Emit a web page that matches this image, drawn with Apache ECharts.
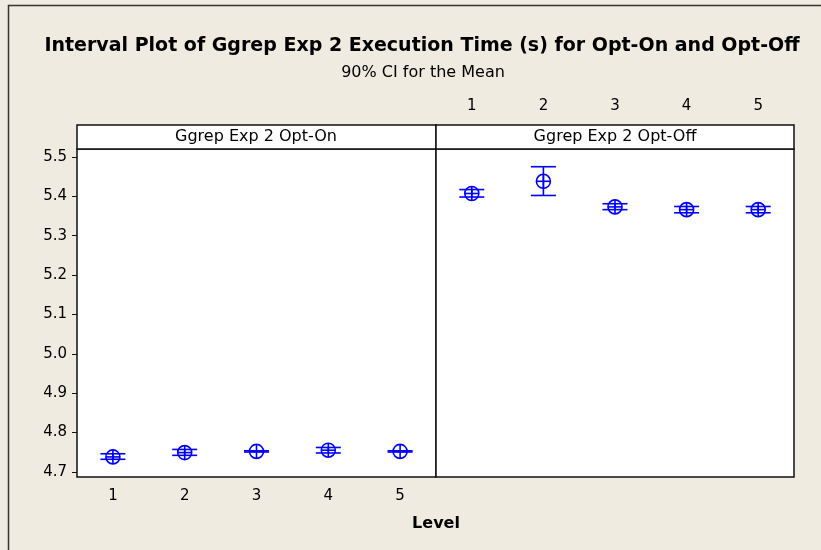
<!DOCTYPE html>
<html>
<head>
<meta charset="utf-8">
<script src="https://cdn.jsdelivr.net/npm/echarts@6/dist/echarts.min.js"></script>
<style>
  html, body { margin: 0; padding: 0; }
  #chart { width: 821px; height: 550px; }
</style>
</head>
<body>
<div id="chart"></div>
<script>
// levels on the x axis (same for both panels)
const levels = ['1', '2', '3', '4', '5']
// y axis ticks and range
const yTicks = [4.7, 4.8, 4.9, 5.0, 5.1, 5.2, 5.3, 5.4, 5.5]
const yMin = 4.687
const yMax = 5.52

// Opt-On: mean and 90% CI
const onMean = [4.738, 4.749, 4.752, 4.755, 4.752]
const onLower = [4.732, 4.742, 4.7505, 4.748, 4.7505]
const onUpper = [4.746, 4.757, 4.7535, 4.762, 4.7535]

// Opt-Off: mean and 90% CI
const offMean = [5.407, 5.438, 5.373, 5.366, 5.366]
const offLower = [5.398, 5.402, 5.366, 5.358, 5.358]
const offUpper = [5.417, 5.475, 5.381, 5.374, 5.374]

const blue = '#0000ff'
const font = 'DejaVu Sans'

function rows(mean, lower, upper) {
  return levels.map((l, i) => [i, lower[i], upper[i], mean[i]])
}

function renderInterval(params, api) {
  const x = api.value(0)
  const lo = api.coord([x, api.value(1)])
  const hi = api.coord([x, api.value(2)])
  const m = api.coord([x, api.value(3)])
  const half = 12.5
  const r = 7
  const style = { stroke: blue, lineWidth: 1.6, fill: null }
  return {
    type: 'group',
    children: [
      { type: 'line', shape: { x1: lo[0], y1: lo[1], x2: hi[0], y2: hi[1] }, style },
      { type: 'line', shape: { x1: lo[0] - half, y1: lo[1], x2: lo[0] + half, y2: lo[1] }, style },
      { type: 'line', shape: { x1: hi[0] - half, y1: hi[1], x2: hi[0] + half, y2: hi[1] }, style },
      { type: 'circle', shape: { cx: m[0], cy: m[1], r }, style },
      { type: 'line', shape: { x1: m[0] - r, y1: m[1], x2: m[0] + r, y2: m[1] }, style },
      { type: 'line', shape: { x1: m[0], y1: m[1] - r, x2: m[0], y2: m[1] + r }, style },
    ],
  }
}

const chart = echarts.init(document.getElementById('chart'))
chart.setOption({
  backgroundColor: '#efebe1',
  animation: false,
  title: [{
    text: 'Interval Plot of Ggrep Exp 2 Execution Time (s) for Opt-On and Opt-Off',
    left: 417,
    top: 32,
    textAlign: 'center',
    textStyle: { fontFamily: font, fontSize: 19, fontWeight: 'bold', color: '#000' },
  }, {
    text: '90% CI for the Mean',
    left: 418,
    top: 60,
    textAlign: 'center',
    textStyle: { fontFamily: font, fontSize: 16, fontWeight: 'normal', color: '#000' },
  }, {
    text: 'Level',
    left: 431,
    top: 511,
    textAlign: 'center',
    textStyle: { fontFamily: font, fontSize: 16, fontWeight: 'bold', color: '#000' },
  }],
  graphic: [
    { type: 'rect', shape: { x: 8.5, y: 5.5, width: 900, height: 600 }, style: { fill: null, stroke: '#333', lineWidth: 1.5 }, z: -1 },
    { type: 'rect', shape: { x: 77, y: 125, width: 359, height: 24 }, style: { fill: '#fff', stroke: '#111', lineWidth: 1.5 } },
    { type: 'rect', shape: { x: 436, y: 125, width: 358, height: 24 }, style: { fill: '#fff', stroke: '#111', lineWidth: 1.5 } },
    { type: 'text', x: 256, y: 137, style: { text: 'Ggrep Exp 2 Opt-On', font: '16px "DejaVu Sans"', fill: '#000', align: 'center', verticalAlign: 'middle' } },
    { type: 'text', x: 615, y: 137, style: { text: 'Ggrep Exp 2 Opt-Off', font: '16px "DejaVu Sans"', fill: '#000', align: 'center', verticalAlign: 'middle' } },
  ],
  grid: [
    { left: 77, right: 385, top: 149, bottom: 73, show: true, backgroundColor: '#fff', borderColor: '#111', borderWidth: 1.5 },
    { left: 436, right: 27, top: 149, bottom: 73, show: true, backgroundColor: '#fff', borderColor: '#111', borderWidth: 1.5 },
  ],
  xAxis: [{
    gridIndex: 0,
    type: 'category',
    data: levels,
    position: 'bottom',
    axisLine: { show: false },
    axisTick: { alignWithLabel: true, length: 6, lineStyle: { color: '#111' } },
    axisLabel: { margin: 12, fontFamily: font, fontSize: 15, color: '#000' },
  }, {
    gridIndex: 1,
    type: 'category',
    data: levels,
    position: 'top',
    offset: 24,
    axisLine: { show: false },
    axisTick: { alignWithLabel: true, length: 7, lineStyle: { color: '#111' } },
    axisLabel: { margin: 11, fontFamily: font, fontSize: 15, color: '#000' },
  }],
  yAxis: [{
    gridIndex: 0,
    type: 'value',
    min: yMin,
    max: yMax,
    axisLine: { show: false },
    splitLine: { show: false },
    axisTick: { show: true, length: 5, customValues: yTicks, lineStyle: { color: '#111' } },
    axisLabel: { margin: 10, fontFamily: font, fontSize: 15, color: '#000', customValues: yTicks, formatter: v => v.toFixed(1) },
  }, {
    gridIndex: 1,
    type: 'value',
    min: yMin,
    max: yMax,
    axisLine: { show: false },
    splitLine: { show: false },
    axisTick: { show: false },
    axisLabel: { show: false },
  }],
  series: [{
    name: 'Opt-On',
    type: 'custom',
    xAxisIndex: 0,
    yAxisIndex: 0,
    renderItem: renderInterval,
    encode: { x: 0, y: [1, 2, 3] },
    data: rows(onMean, onLower, onUpper),
  }, {
    name: 'Opt-Off',
    type: 'custom',
    xAxisIndex: 1,
    yAxisIndex: 1,
    renderItem: renderInterval,
    encode: { x: 0, y: [1, 2, 3] },
    data: rows(offMean, offLower, offUpper),
  }],
})
</script>
</body>
</html>
